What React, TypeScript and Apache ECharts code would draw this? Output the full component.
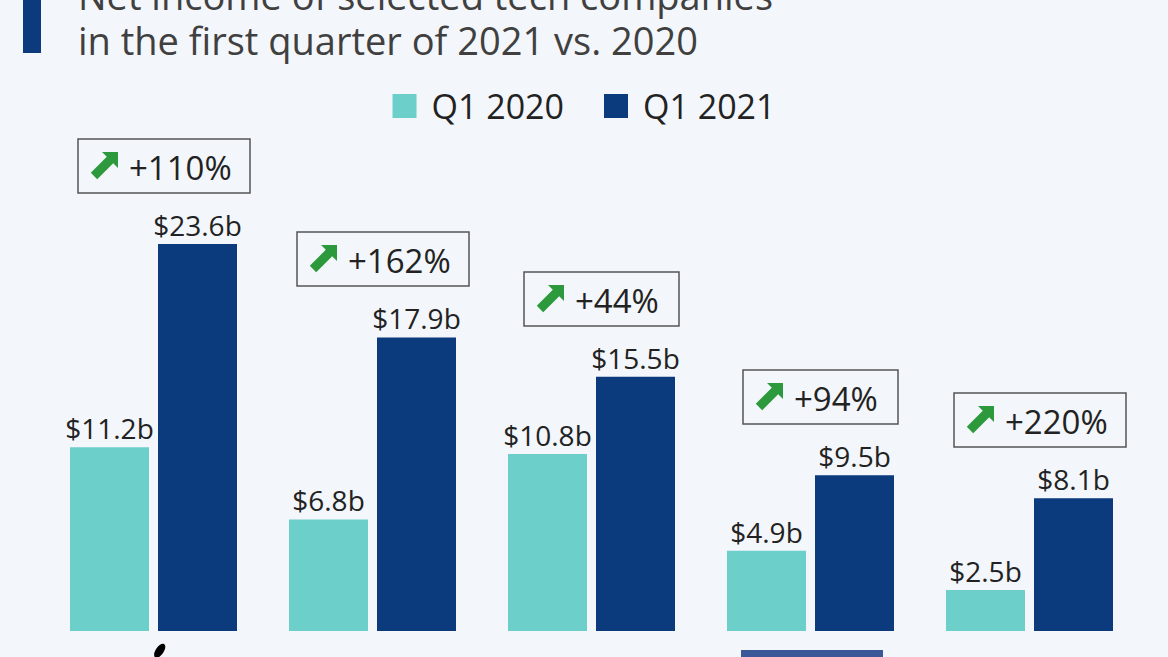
import React, { useEffect, useRef } from "react";
import * as echarts from "echarts";

const companies = ["Apple", "Alphabet", "Microsoft", "Facebook", "Amazon"];
const q1_2020 = [11.2, 6.8, 10.8, 4.9, 2.5];
const q1_2021 = [23.6, 17.9, 15.5, 9.5, 8.1];
const changeLabels = ["+110%", "+162%", "+44%", "+94%", "+220%"];
const seriesNames = ["Q1 2020", "Q1 2021"];
const titleLines = ["Net income of selected tech companies", "in the first quarter of 2021 vs. 2020"];

const BG = "#f3f6fa";
const LIGHT = "#6dcfc9";
const DARK = "#0b3a7d";
const FONT = "'Open Sans', sans-serif";

export default function App() {
  const ref = useRef<HTMLDivElement>(null);
  useEffect(() => {
    const chart = echarts.init(ref.current!, null, { renderer: "svg" });
    const arrowPts = [
      [0.8, 20.8], [16.8, 4.8], [12, 0], [28, 0], [28, 16], [23.2, 11.2], [7.2, 27.2],
    ];
    chart.setOption({
      animation: false,
      backgroundColor: BG,
      textStyle: { fontFamily: FONT },
      legend: {
        data: seriesNames,
        top: 84,
        left: "center",
        itemWidth: 24,
        itemHeight: 24,
        itemGap: 40,
        icon: "rect",
        textStyle: { fontSize: 34, color: "#222", fontFamily: FONT, padding: [0, 0, 0, 10] },
      },
      grid: { left: 44, right: 29, top: 139, bottom: 26 },
      xAxis: {
        type: "category",
        data: companies,
        axisLine: { show: false },
        axisTick: { show: false },
        axisLabel: { show: false },
      },
      yAxis: {
        type: "value",
        min: 0,
        max: 30,
        show: false,
        splitLine: { show: false },
      },
      graphic: [
        { type: "rect", shape: { x: 23, y: 0, width: 18, height: 53 }, style: { fill: DARK } },
        {
          type: "text", x: 78, y: 62,
          style: {
            text: titleLines.join("\n"), fontSize: 38, lineHeight: 45, fontFamily: FONT,
            fill: "#404040", verticalAlign: "bottom",
          },
        },
        { type: "ellipse", shape: { cx: 160, cy: 651, rx: 4, ry: 8 }, rotation: -0.6, originX: 160, originY: 651, style: { fill: "#000" } },
        { type: "rect", shape: { x: 741, y: 650, width: 142, height: 40 }, style: { fill: "#3b5998" } },
        {
          type: "text", x: 966, y: 643,
          style: { text: "amazon", fontSize: 46, fontWeight: "bold", fontFamily: FONT, fill: "#333", verticalAlign: "top" },
        },
      ],
      series: [
        {
          name: seriesNames[0],
          type: "bar",
          data: q1_2020,
          barWidth: 79,
          barGap: "11.4%",
          itemStyle: { color: LIGHT },
          label: {
            show: true, position: "top", distance: 5, fontSize: 28, color: "#222", fontFamily: FONT,
            formatter: (p: any) => "$" + p.value + "b",
          },
        },
        {
          name: seriesNames[1],
          type: "bar",
          data: q1_2021,
          barWidth: 79,
          itemStyle: { color: DARK },
          label: {
            show: true, position: "top", distance: 5, fontSize: 28, color: "#222", fontFamily: FONT,
            formatter: (p: any) => "$" + p.value + "b",
          },
        },
        {
          type: "custom",
          data: q1_2021.map((v, i) => [i, v, changeLabels[i]]),
          z: 10,
          silent: true,
          renderItem: (params: any, api: any) => {
            const idx = api.value(0);
            const p = api.coord([idx, api.value(1)]);
            const txt = changeLabels[idx];
            const w = 87 + 17 * txt.length;
            const h = 54;
            const cx = p[0] + 10;
            const bottom = p[1] - 51;
            const x0 = Math.round(cx - w / 2);
            const y0 = Math.round(bottom - h);
            return {
              type: "group",
              children: [
                {
                  type: "rect",
                  shape: { x: x0, y: y0, width: w, height: h },
                  style: { fill: "rgba(255,255,255,0)", stroke: "#555", lineWidth: 1.5 },
                },
                {
                  type: "polygon",
                  shape: { points: arrowPts.map((q) => [x0 + 12 + q[0], y0 + 13 + q[1]]) },
                  style: { fill: "#2c9a3c" },
                },
                {
                  type: "text",
                  x: x0 + 51,
                  y: y0 + h / 2 + 1,
                  style: { text: txt, fontSize: 33, fontFamily: FONT, fill: "#222", verticalAlign: "middle" },
                },
              ],
            };
          },
        },
      ],
    });
    return () => chart.dispose();
  }, []);
  return (
    <div
      ref={ref}
      style={{ position: "fixed", left: 0, top: 0, width: 1168, height: 657 }}
    />
  );
}
